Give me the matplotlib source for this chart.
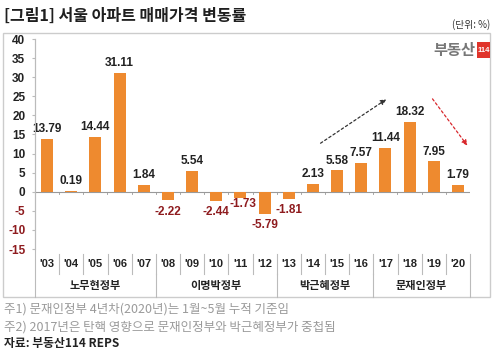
import matplotlib
matplotlib.use("Agg")
import matplotlib.pyplot as plt
from matplotlib.patches import Rectangle
from matplotlib.lines import Line2D

plt.rcParams['font.family'] = ['Noto Sans CJK KR', 'DejaVu Sans']

years = ["'03", "'04", "'05", "'06", "'07", "'08", "'09", "'10", "'11", "'12",
         "'13", "'14", "'15", "'16", "'17", "'18", "'19", "'20"]
values = [13.79, 0.19, 14.44, 31.11, 1.84, -2.22, 5.54, -2.44, -1.73, -5.79,
          -1.81, 2.13, 5.58, 7.57, 11.44, 18.32, 7.95, 1.79]
groups = ["노무현정부", "이명박정부", "박근혜정부", "문재인정부"]
group_spans = [(0, 5), (5, 10), (10, 14), (14, 18)]
yticks = [40, 35, 30, 25, 20, 15, 10, 5, 0, -5, -10, -15]

title = "[그림1] 서울 아파트 매매가격 변동률"
unit = "(단위: %)"
notes = ["주1) 문재인정부 4년차(2020년)는 1월~5월 누적 기준임",
         "주2) 2017년은 탄핵 영향으로 문재인정부와 박근혜정부가 중첩됨"]
source = "자료: 부동산114 REPS"

NUMFONT = ['Liberation Sans', 'DejaVu Sans']

W, H = 500, 353
fig = plt.figure(figsize=(W / 100, H / 100), dpi=100)
fig.patch.set_facecolor('white')

def fx(px):
    return px / W

def fy(py):
    return 1 - py / H

ax = fig.add_axes([fx(35), fy(249), fx(470) - fx(35), fy(39) - fy(249)])
ax.set_xlim(-0.5, len(years) - 0.5)
ax.set_ylim(-15, 40)
ax.patch.set_alpha(0)

orange = '#EE8A2F'
red_txt = '#8E1B1E'
xs = list(range(len(years)))
ax.bar(xs, values, width=0.5, color=orange, zorder=3)

for x, v in zip(xs, values):
    if v >= 0:
        ax.text(x, v + 1.0, f"{v:.2f}", ha='center', va='bottom', fontsize=8.5,
                fontweight='bold', color='#222222', family=NUMFONT, zorder=4)
    else:
        off = 1.4
        dx = 0
        if x == 8:  # '11 label sits tight next to '10 label
            off = -0.1
            dx = 0.12
        ax.text(x + dx, v - off, f"{v:.2f}", ha='center', va='top', fontsize=8.5,
                fontweight='bold', color=red_txt, family=NUMFONT, zorder=4)

ax.axhline(0, color='#999999', lw=0.8, zorder=2)
for i in range(len(years) + 1):
    ax.plot([i - 0.5, i - 0.5], [0, -0.7], color='#999999', lw=0.6, zorder=2)

for s in ['top', 'right', 'bottom']:
    ax.spines[s].set_visible(False)
ax.spines['left'].set_color('#BBBBBB')
ax.spines['left'].set_linewidth(0.8)
ax.set_xticks([])
ax.set_yticks(yticks)
ax.set_yticklabels([str(t) for t in yticks])
ax.tick_params(axis='y', length=2, color='#BBBBBB', pad=5, labelsize=8.5)
for lbl, t in zip(ax.get_yticklabels(), yticks):
    lbl.set_fontweight('bold')
    lbl.set_family(NUMFONT)
    lbl.set_color(red_txt if t < 0 else '#222222')

ax.annotate('', xy=(14.13, 24.6), xytext=(11.22, 12.3),
            arrowprops=dict(arrowstyle='-|>', color='#333333', lw=0.9,
                            linestyle=(0, (2, 2)), mutation_scale=8))
ax.annotate('', xy=(17.46, 11.5), xytext=(15.88, 24.9),
            arrowprops=dict(arrowstyle='-|>', color='#D8262B', lw=0.9,
                            linestyle=(0, (2, 2)), mutation_scale=8))

slot = (470 - 35) / len(years)
line_c = '#BBBBBB'
def vline(xp, y0, y1):
    fig.add_artist(Line2D([fx(xp), fx(xp)], [fy(y0), fy(y1)], color=line_c, lw=0.8))

vline(35, 39, 297)
for i, y in enumerate(years):
    cx = 35 + (i + 0.5) * slot
    fig.text(fx(cx), fy(264), y, ha='center', va='center', fontsize=8,
             fontweight='bold', color='#222222', family=NUMFONT)
    if i > 0:
        vline(35 + i * slot, 254, 274)
vline(470, 254, 297)
for g, (a, b) in zip(groups, group_spans):
    cx = 35 + (a + b) / 2 * slot
    fig.text(fx(cx), fy(286), g, ha='center', va='center', fontsize=8,
             fontweight='bold', color='#222222')
    if a > 0:
        vline(35 + a * slot, 274, 297)

fig.add_artist(Rectangle((fx(3), fy(297)), fx(490) - fx(3), fy(33) - fy(297),
                         fill=False, edgecolor='#CCCCCC', lw=1.0))

fig.text(fx(4), fy(16), title, ha='left', va='center', fontsize=11.5,
         fontweight='bold', color='#1f1f1f')
fig.text(fx(490), fy(25), unit, ha='right', va='center', fontsize=7,
         color='#333333')

fig.text(fx(475), fy(50), "부동산", ha='right', va='center', fontsize=11,
         fontweight='bold', color='#777777')
fig.add_artist(Rectangle((fx(477), fy(58)), fx(13), fy(42) - fy(58),
                         facecolor='#E0342B', edgecolor='none'))
fig.text(fx(483.5), fy(50), "114", ha='center', va='center', fontsize=5.5,
         fontweight='bold', color='white', family=NUMFONT)

fig.text(fx(4), fy(309), notes[0], ha='left', va='center', fontsize=9,
         color='#9a9a9a')
fig.text(fx(4), fy(327), notes[1], ha='left', va='center', fontsize=9,
         color='#9a9a9a')
fig.text(fx(4), fy(344), source, ha='left', va='center', fontsize=8.5,
         fontweight='bold', color='#222222')

fig.savefig('out.png', dpi=100, facecolor='white')
